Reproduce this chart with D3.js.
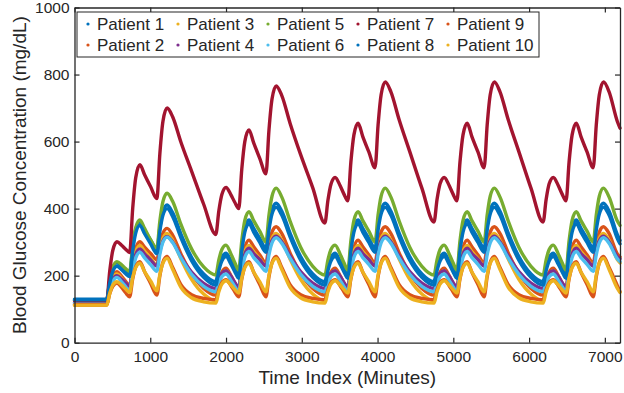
<!DOCTYPE html>
<html><head><meta charset="utf-8">
<script src="https://cdn.jsdelivr.net/npm/d3@7"></script>
<style>body{margin:0;background:#fff}svg{display:block}text{font-family:"Liberation Sans",Arial,Helvetica,sans-serif;fill:#262626}</style>
</head><body><svg id="c" width="624" height="393"></svg>
<script>
const times=[0,
425,465,505,560,625,675,728,768,808,863,925,1005,1087,1127,1167,1222,1295,1405,1545,1705,
1865,1905,1945,2000,2065,2115,2168,2208,2248,2303,2365,2445,2527,2567,2607,2662,2735,2845,2985,3145,
3305,3345,3385,3440,3505,3555,3608,3648,3688,3743,3805,3885,3967,4007,4047,4102,4175,4285,4425,4585,
4745,4785,4825,4880,4945,4995,5048,5088,5128,5183,5245,5325,5407,5447,5487,5542,5615,5725,5865,6025,
6185,6225,6265,6320,6385,6435,6488,6528,6568,6623,6685,6765,6847,6887,6927,6982,7055,7165,7200];
const patient1=[130,
130,184,222,238,227,216,207,284,338,361,336,306,277,344,391,411,388,324,255,205,
182,225,254,267,244,222,202,284,341,366,341,311,282,349,396,416,393,327,257,205,
182,225,254,267,244,222,202,284,341,366,341,311,282,349,396,416,393,327,257,205,
182,225,254,267,244,222,202,284,341,366,341,311,282,349,396,416,393,327,257,205,
182,225,254,267,244,222,202,284,341,366,341,311,282,349,396,416,393,322,305];
const patient2=[115,
115,164,197,212,197,183,170,236,281,301,285,266,247,294,327,341,321,265,206,162,
142,182,210,222,200,179,160,233,284,306,286,262,238,292,330,346,326,268,207,162,
142,182,210,222,200,179,160,233,284,306,286,262,238,292,330,346,326,268,207,162,
142,182,210,222,200,179,160,233,284,306,286,262,238,292,330,346,326,268,207,162,
142,182,210,222,200,179,160,233,284,306,286,262,238,292,330,346,326,265,256];
const patient3=[112,
112,159,191,205,191,177,165,228,271,290,273,252,232,279,312,326,306,250,189,145,
125,170,202,215,196,177,160,225,271,290,272,251,230,278,312,326,306,250,189,145,
125,170,202,215,196,177,160,225,271,290,272,251,230,278,312,326,306,250,189,145,
125,170,202,215,196,177,160,225,271,290,272,251,230,278,312,326,306,250,189,145,
125,170,202,215,196,177,160,225,271,290,272,251,230,278,312,326,306,248,238];
const patient4=[120,
120,160,188,200,189,178,168,224,263,280,265,247,229,273,303,316,301,257,211,177,
162,189,207,215,198,180,165,224,264,282,266,248,229,274,305,318,302,259,212,178,
162,189,207,215,198,180,165,224,264,282,266,248,229,274,305,318,302,259,212,178,
162,189,207,215,198,180,165,224,264,282,266,248,229,274,305,318,302,259,212,178,
162,189,207,215,198,180,165,224,264,282,266,248,229,274,305,318,302,257,250];
const patient5=[127,
127,185,225,242,232,221,212,289,343,366,341,307,282,364,421,446,422,353,280,226,
202,247,278,291,265,239,217,304,365,391,364,333,301,381,437,461,435,363,285,228,
202,247,278,291,265,239,217,304,365,391,364,333,301,381,437,461,435,363,285,228,
202,247,278,291,265,239,217,304,365,391,364,333,301,381,437,461,435,363,285,228,
202,247,278,291,265,239,217,304,365,391,364,333,301,381,437,461,435,363,350];
const patient6=[118,
118,157,183,195,181,167,155,213,253,270,253,233,213,264,300,315,299,253,204,168,
152,179,197,205,186,168,152,212,254,272,254,234,213,263,298,313,297,252,204,168,
152,179,197,205,186,168,152,212,254,272,254,234,213,263,298,313,297,252,204,168,
152,179,197,205,186,168,152,212,254,272,254,234,213,263,298,313,297,252,204,168,
152,179,197,205,186,168,152,212,254,272,254,234,213,263,298,313,297,250,242];
const patient7=[125,
125,213,275,301,290,279,269,400,492,531,501,465,430,565,660,700,674,598,512,413,
323,393,442,463,441,419,400,518,600,635,596,550,504,635,727,766,738,655,561,462,
357,425,473,493,469,444,423,539,620,655,615,569,522,650,740,778,749,665,570,461,
360,427,474,493,469,444,423,539,620,655,615,569,522,650,740,778,749,665,570,461,
360,427,474,493,469,444,423,539,620,655,615,569,522,650,740,778,749,660,640];
const patient8=[128,
128,178,213,228,217,206,197,274,327,350,325,295,266,333,380,400,377,313,245,195,
172,215,244,257,234,212,192,274,330,355,330,299,270,337,384,404,381,316,246,195,
172,215,244,257,234,212,192,274,330,355,330,299,270,337,384,404,381,316,246,195,
172,215,244,257,234,212,192,274,330,355,330,299,270,337,384,404,381,316,246,195,
172,215,244,257,234,212,192,274,330,355,330,299,270,337,384,404,381,311,295];
const patient9=[113,
113,146,168,178,164,149,137,190,226,242,212,177,142,200,240,257,225,173,143,132,
128,158,179,188,170,152,137,190,226,242,210,174,137,197,239,257,225,173,143,132,
128,158,179,188,170,152,137,190,226,242,210,174,137,197,239,257,225,173,143,132,
128,158,179,188,170,152,137,190,226,242,210,174,137,197,239,257,225,173,143,132,
128,158,179,188,170,152,137,190,226,242,210,174,137,197,239,257,225,170,152];
const patient10=[112,
112,147,172,182,171,160,150,194,224,237,212,184,155,204,237,252,219,165,134,122,
118,152,175,185,172,159,148,193,224,237,211,182,152,202,237,252,219,165,134,122,
118,152,175,185,172,159,148,193,224,237,211,182,152,202,237,252,219,165,134,122,
118,152,175,185,172,159,148,193,224,237,211,182,152,202,237,252,219,165,134,122,
118,152,175,185,172,159,148,193,224,237,211,182,152,202,237,252,219,162,150];
const seriesNames=["Patient 1","Patient 2","Patient 3","Patient 4","Patient 5","Patient 6","Patient 7","Patient 8","Patient 9","Patient 10"];
const seriesValues=[patient1,patient2,patient3,patient4,patient5,patient6,patient7,patient8,patient9,patient10];
const xTicks=[0,1000,2000,3000,4000,5000,6000,7000];
const yTicks=[0,200,400,600,800,1000];
const colors=["#0072BD","#D95319","#EDB120","#7E2F8E","#77AC30","#4DBEEE","#A2142F","#0072BD","#D95319","#EDB120"];

const svg=d3.select("#c");
const L=74.5,R=620,T=7.5,B=342.7;
const x=d3.scaleLinear().domain([0,7200]).range([L,R]);
const y=d3.scaleLinear().domain([0,1000]).range([B,T]);
svg.append("rect").attr("width",624).attr("height",393).attr("fill","#fff");

const line=d3.line().x((d,i)=>x(times[i])).y(d=>y(d)).curve(d3.curveMonotoneX);
const g=svg.append("g");
seriesValues.forEach((vals,k)=>{
  g.append("path").attr("d",line(vals)).attr("fill","none").attr("stroke",colors[k])
   .attr("stroke-width",3.4).attr("stroke-linejoin","round").attr("stroke-linecap","round");
});

const axCol="#262626";
const fmt=d3.format("d");
function style(sel){sel.select(".domain").attr("stroke",axCol).attr("stroke-width",1.3);
  sel.selectAll(".tick line").attr("stroke",axCol).attr("stroke-width",1.2);
  sel.selectAll(".tick text").attr("font-size",15.5).attr("fill",axCol).style("font-family",'"Liberation Sans",Arial,sans-serif');}
svg.append("g").attr("transform",`translate(0,${B})`).call(d3.axisBottom(x).tickValues(xTicks).tickFormat(fmt).tickSizeInner(-5).tickSizeOuter(0).tickPadding(8)).call(style);
svg.append("g").attr("transform",`translate(0,${T})`).call(d3.axisTop(x).tickValues(xTicks).tickSizeInner(-5).tickSizeOuter(0).tickFormat("")).call(style);
svg.append("g").attr("transform",`translate(${L},0)`).call(d3.axisLeft(y).tickValues(yTicks).tickFormat(fmt).tickSizeInner(-5).tickSizeOuter(0).tickPadding(5)).call(style);
svg.append("g").attr("transform",`translate(${R},0)`).call(d3.axisRight(y).tickValues(yTicks).tickSizeInner(-5).tickSizeOuter(0).tickFormat("")).call(style);

svg.append("text").attr("x",(L+R)/2).attr("y",384).attr("text-anchor","middle").attr("font-size",19).text("Time Index (Minutes)");
svg.append("text").attr("transform",`translate(26,${(T+B)/2}) rotate(-90)`).attr("text-anchor","middle").attr("font-size",19).text("Blood Glucose Concentration (mg/dL)");

const lg=svg.append("g");
lg.append("rect").attr("x",77).attr("y",12).attr("width",462).attr("height",45).attr("fill","#fff").attr("stroke",axCol).attr("stroke-width",1);
seriesNames.forEach((n,k)=>{
  const col=Math.floor(k/2),row=k%2;
  const cx=88+col*90,cy=24+row*21;
  lg.append("circle").attr("cx",cx).attr("cy",cy).attr("r",1.6).attr("fill",colors[k]);
  lg.append("text").attr("x",cx+9).attr("y",cy).attr("dy","0.35em").attr("font-size",17).text(n);
});
</script></body></html>
